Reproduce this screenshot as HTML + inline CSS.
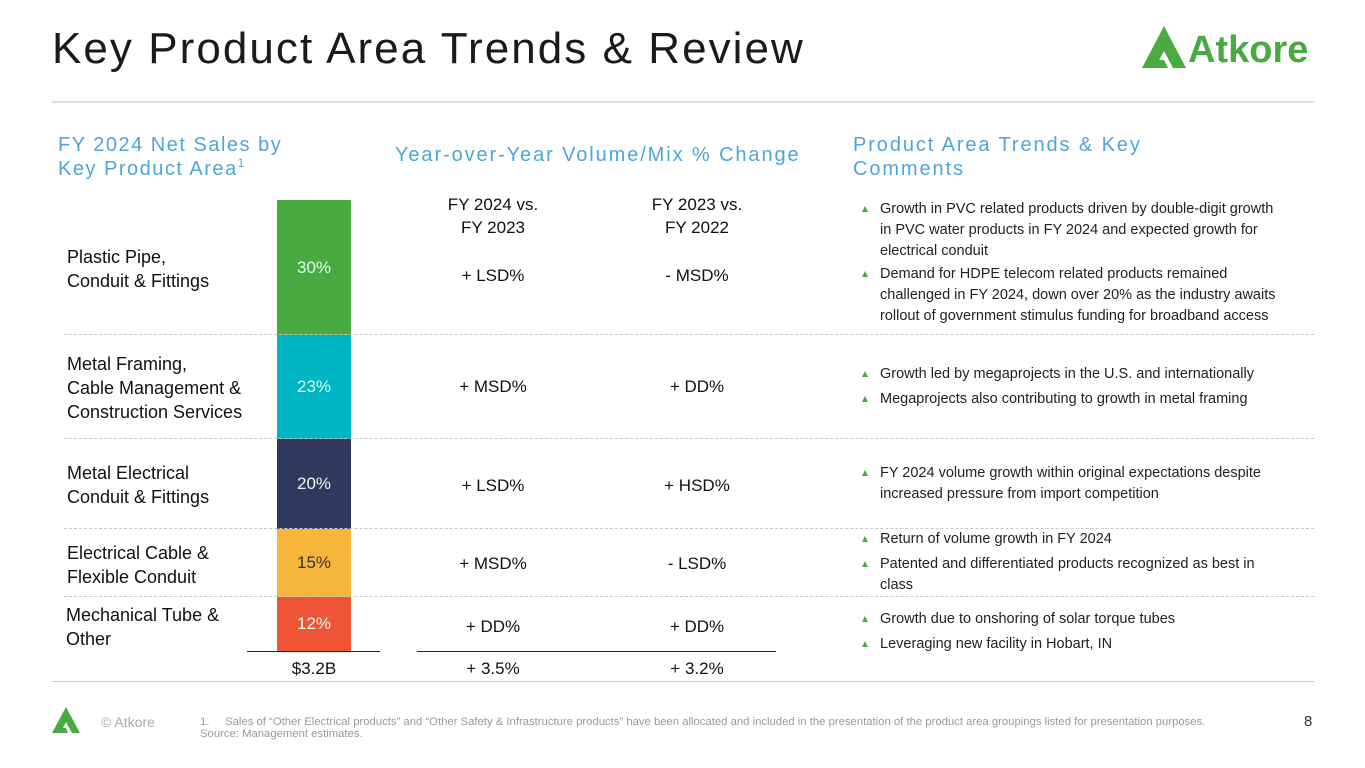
<!DOCTYPE html><html><head><style>
body{margin:0;width:1365px;height:768px;background:#fff;position:relative;font-family:"Liberation Sans",sans-serif;overflow:hidden}
.a{position:absolute;white-space:nowrap}
.h{color:#4ea6d8;font-size:20px;letter-spacing:1.5px;line-height:24px}
.l{font-size:18px;color:#111;line-height:24px}
.c{font-size:17px;color:#111;text-align:center;width:200px}
.seg{position:absolute;left:277px;width:74px;color:#dfe;font-size:17px;display:flex;align-items:center;justify-content:center}
.dash{position:absolute;left:64px;width:1250px;border-top:1px dashed #c8c8c8}
.b{position:absolute;left:880px;font-size:14.5px;color:#222;line-height:21px;width:410px}
.b:before{content:"";position:absolute;left:-18px;top:7px;border-left:3px solid transparent;border-right:3px solid transparent;border-bottom:6px solid #4aaa42}
</style></head><body>
<div class="a" style="left:52px;top:24px;font-size:44px;color:#1a1a1a;letter-spacing:2.05px">Key Product Area Trends &amp; Review</div>
<svg class="a" style="left:1142px;top:24px" width="175" height="46" viewBox="0 0 175 46"><path d="M0 44 L22 2 L44 44 L31 44 L22 27 L17 36 L22 36 L26 44 Z" fill="#4aaa42"/><text x="46" y="38" font-family="Liberation Sans" font-weight="bold" font-size="38" fill="#4aaa42">Atkore</text></svg>
<div class="a" style="left:52px;top:101px;width:1262px;border-top:2px solid #ddd"></div>
<div class="a h" style="left:58px;top:133px">FY 2024 Net Sales by<br>Key Product Area<span style="font-size:12px;position:relative;top:-8px">1</span></div>
<div class="a h" style="left:395px;top:143px;letter-spacing:1.9px">Year-over-Year Volume/Mix % Change</div>
<div class="a h" style="left:853px;top:133px;letter-spacing:1.9px">Product Area Trends &amp; Key<br>Comments</div>
<div class="a c" style="left:393px;top:193px;line-height:23px">FY 2024 vs.<br>FY 2023</div>
<div class="a c" style="left:597px;top:193px;line-height:23px">FY 2023 vs.<br>FY 2022</div>
<div class="seg" style="top:200px;height:135px;background:#4aaa42">30%</div>
<div class="seg" style="top:335px;height:104px;background:#00b5c3">23%</div>
<div class="seg" style="top:439px;height:90px;background:#313a5e">20%</div>
<div class="seg" style="top:529px;height:68px;background:#f7b73c;color:#333">15%</div>
<div class="seg" style="top:597px;height:54px;background:#ef5436">12%</div>
<div class="dash" style="top:334px"></div><div class="dash" style="top:438px"></div><div class="dash" style="top:528px"></div><div class="dash" style="top:596px"></div>
<div class="a l" style="left:67px;top:245px">Plastic Pipe,<br>Conduit &amp; Fittings</div>
<div class="a l" style="left:67px;top:352px">Metal Framing,<br>Cable Management &amp;<br>Construction Services</div>
<div class="a l" style="left:67px;top:461px">Metal Electrical<br>Conduit &amp; Fittings</div>
<div class="a l" style="left:67px;top:541px">Electrical Cable &amp;<br>Flexible Conduit</div>
<div class="a l" style="left:66px;top:603px">Mechanical Tube &amp;<br>Other</div>
<div class="a c" style="left:393px;top:266px">+ LSD%</div><div class="a c" style="left:597px;top:266px">- MSD%</div>
<div class="a c" style="left:393px;top:377px">+ MSD%</div><div class="a c" style="left:597px;top:377px">+ DD%</div>
<div class="a c" style="left:393px;top:476px">+ LSD%</div><div class="a c" style="left:597px;top:476px">+ HSD%</div>
<div class="a c" style="left:393px;top:554px">+ MSD%</div><div class="a c" style="left:597px;top:554px">- LSD%</div>
<div class="a c" style="left:393px;top:617px">+ DD%</div><div class="a c" style="left:597px;top:617px">+ DD%</div>
<div class="a" style="left:247px;top:651px;width:133px;border-top:1px solid #222"></div>
<div class="a" style="left:417px;top:651px;width:359px;border-top:1px solid #222"></div>
<div class="a c" style="left:214px;top:659px">$3.2B</div>
<div class="a c" style="left:393px;top:659px">+ 3.5%</div><div class="a c" style="left:597px;top:659px">+ 3.2%</div>
<div class="b" style="top:199px">Growth in PVC related products driven by double-digit growth<br>in PVC water products in FY 2024 and expected growth for electrical conduit</div>
<div class="b" style="top:264px;width:418px">Demand for HDPE telecom related products remained challenged in FY 2024, down over 20% as the industry awaits rollout of government stimulus funding for broadband access</div>
<div class="b" style="top:364px">Growth led by megaprojects in the U.S. and internationally</div>
<div class="b" style="top:389px">Megaprojects also contributing to growth in metal framing</div>
<div class="b" style="top:463px">FY 2024 volume growth within original expectations despite increased pressure from import competition</div>
<div class="b" style="top:529px">Return of volume growth in FY 2024</div>
<div class="b" style="top:554px">Patented and differentiated products recognized as best in class</div>
<div class="b" style="top:609px">Growth due to onshoring of solar torque tubes</div>
<div class="b" style="top:634px">Leveraging new facility in Hobart, IN</div>
<div class="a" style="left:52px;top:681px;width:1262px;border-top:1px solid #ccc"></div>
<svg class="a" style="left:52px;top:706px" width="36" height="28" viewBox="0 0 36 28"><path d="M0 27 L14 1 L28 27 L20 27 L14 16 L11 22 L14 22 L16 27 Z" fill="#4aaa42"/></svg>
<div class="a" style="left:101px;top:714px;font-size:14px;color:#aaa">© Atkore</div>
<div class="a" style="left:200px;top:716px;font-size:11.3px;color:#999;line-height:12px">1.&nbsp;&nbsp;&nbsp;&nbsp;&nbsp;Sales of “Other Electrical products” and “Other Safety &amp; Infrastructure products” have been allocated and included in the presentation of the product area groupings listed for presentation purposes.<br>Source: Management estimates.</div>
<div class="a" style="left:1304px;top:713px;font-size:15px;color:#333">8</div>
</body></html>
